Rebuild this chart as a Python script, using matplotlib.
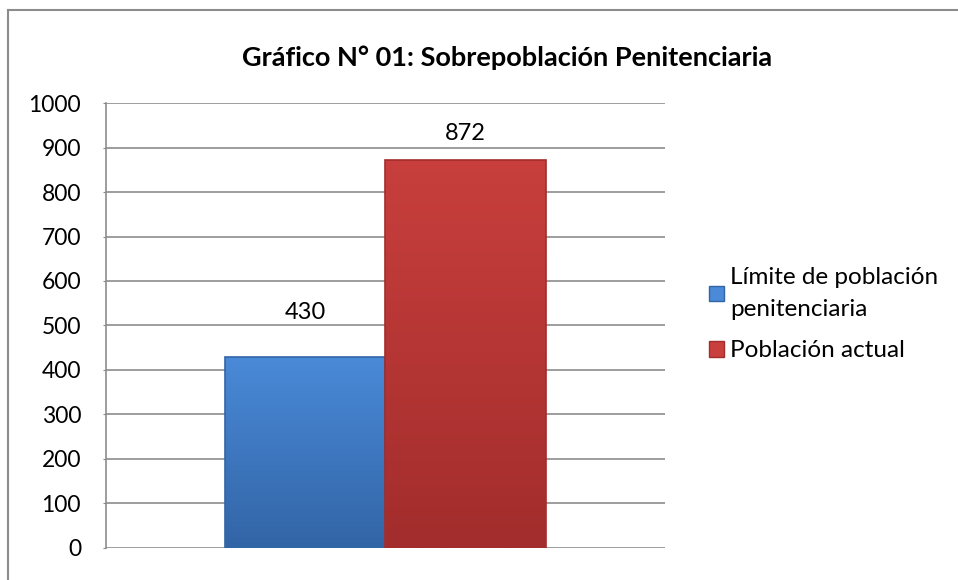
import matplotlib.pyplot as plt
import numpy as np
from matplotlib.colors import to_rgb
from matplotlib.lines import Line2D
from matplotlib.patches import Patch

plt.rcParams['font.family'] = ['Lato', 'DejaVu Sans']

series = ['Límite de población\npenitenciaria', 'Población actual']
values = [430, 872]
top_colors = ['#4a8ad8', '#c83f3d']
bottom_colors = ['#3265a6', '#a22d2c']
yticks = [0, 100, 200, 300, 400, 500, 600, 700, 800, 900, 1000]
label_gap_px = [44, 26]   # how far Excel put each value label above its bar

fig = plt.figure(figsize=(9.58, 5.8), dpi=100)
ax = fig.add_axes([0.1107, 0.0552, 0.583, 0.7672])

width = 0.287
offsets = [-width / 2, width / 2]
bars = ax.bar(offsets, values, width=width, color=top_colors, zorder=3,
              edgecolor='none')

# vertical gradient inside each bar
for b, c_top, c_bot, gap in zip(bars, top_colors, bottom_colors, label_gap_px):
    x0, y0 = b.get_x(), b.get_y()
    w, h = b.get_width(), b.get_height()
    t = np.array(to_rgb(c_top))
    bt = np.array(to_rgb(c_bot))
    grad = np.linspace(0, 1, 256)[:, None, None]
    img = t * (1 - grad) + bt * grad
    im = ax.imshow(img, extent=[x0, x0 + w, y0, y0 + h], aspect='auto',
                   origin='upper', zorder=3.5)
    im.set_clip_path(b)
    ax.add_patch(plt.Rectangle((x0, y0), w, h, fill=False,
                               edgecolor=c_bot, linewidth=1.2, zorder=4))
    ax.annotate(str(int(h)), (x0 + w / 2, h), xytext=(0, gap * 0.72),
                textcoords='offset points', ha='center', va='center',
                fontsize=17, color='#000000', zorder=5)

ax.set_xlim(-0.5, 0.5)
ax.set_ylim(0, 1000)
ax.set_yticks(yticks)
ax.set_xticks([])
ax.tick_params(axis='y', labelsize=16.5, length=2, color='#888888', pad=16)
ax.yaxis.grid(True, color='#8c8c8c', linewidth=1.2, zorder=0)
for s in ['top', 'right', 'bottom']:
    ax.spines[s].set_visible(False)
ax.spines['left'].set_color('#8c8c8c')
ax.spines['left'].set_linewidth(1.2)

fig.text(0.529, 0.9, 'Gráfico N° 01: Sobrepoblación Penitenciaria',
         ha='center', va='center', fontsize=19.5, fontweight='bold')

handles = [Patch(facecolor=c, edgecolor=e) for c, e in zip(top_colors, bottom_colors)]
leg = fig.legend(handles, series, loc='upper left', bbox_to_anchor=(0.727, 0.56),
                 frameon=False, fontsize=17.5, handlelength=0.62, handleheight=0.62,
                 handletextpad=0.25, labelspacing=0.85, borderpad=0)
for txt in leg.get_texts():
    txt.set_linespacing(1.6)

# outer chart border (left and top edges visible)
fig.add_artist(Line2D([8 / 958, 8 / 958], [0, 1 - 10 / 580],
                      color='#8c8c8c', linewidth=1.5))
fig.add_artist(Line2D([8 / 958, 1], [1 - 10 / 580, 1 - 10 / 580],
                      color='#8c8c8c', linewidth=1.5))

fig.savefig('out.png', dpi=100)
